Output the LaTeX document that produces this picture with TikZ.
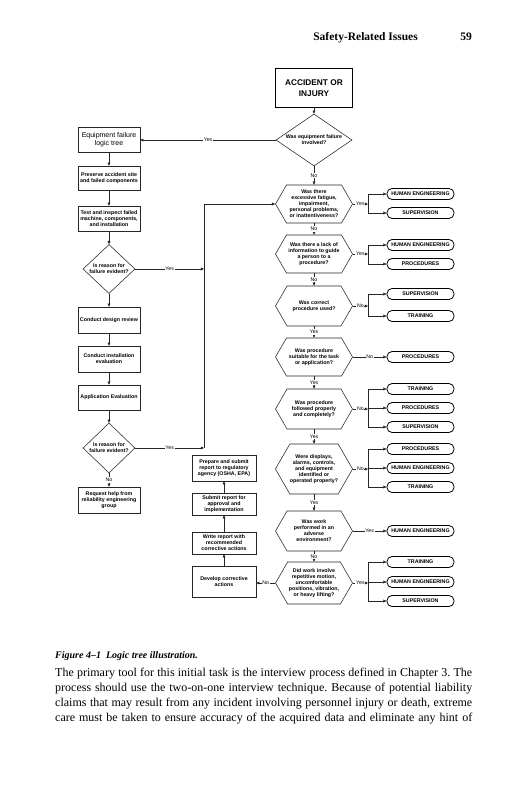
\documentclass[tikz,border=0pt]{standalone}
\usepackage{fontspec}
\setmainfont{Liberation Serif}
\setsansfont{Liberation Sans}
\usetikzlibrary{shapes.geometric,shapes.symbols,arrows.meta}
\begin{document}
\frenchspacing
\begin{tikzpicture}[x=1pt,y=-1pt,
  line/.style={draw=black!85, line width=0.5pt},
  arr/.style={line, -{Triangle[length=3.2pt,width=2.8pt]}},
  txt/.style={font=\sffamily\bfseries\fontsize{5.3}{6}\selectfont, align=center},
  box/.style={txt, draw=black!85, line width=0.55pt, inner sep=0.5pt, minimum width=62pt},
  mbox/.style={box, minimum width=64pt},
  dia/.style={txt, diamond, draw=black!85, line width=0.55pt, inner sep=0pt},
  hexa/.style={txt, signal, signal to=east and west, signal pointer angle=120, draw=black!85, line width=0.55pt, inner sep=0pt, minimum width=77pt},
  pill/.style={draw, line width=0.8pt, rounded corners=5pt, minimum width=67pt, minimum height=11pt, inner sep=0pt, font=\sffamily\bfseries\fontsize{5.3}{6}\selectfont},
  lab/.style={font=\sffamily\fontsize{5.2}{6}\selectfont, fill=white, inner sep=0.7pt},
  body/.style={anchor=base west, inner sep=0pt, font=\rmfamily\fontsize{12}{15}\selectfont},
]
\fill[white] (0,0) rectangle (530,800);
\useasboundingbox (0,0) rectangle (530,800);

% header
\node[anchor=base east, inner sep=0pt, font=\rmfamily\bfseries\fontsize{11.5}{13}\selectfont] (hd) at (418,41) {Safety-Related Issues};
\node[anchor=base east, inner sep=0pt, font=\rmfamily\bfseries\fontsize{11.5}{13}\selectfont] (pg) at (472,41) {59};

% main column
\node[draw, line width=0.9pt, minimum width=77pt, minimum height=39pt, align=center, font=\sffamily\bfseries\fontsize{8.3}{10.5}\selectfont] (acc) at (314,88) {ACCIDENT OR\\INJURY};
\node[dia, aspect=1.5, minimum width=76pt, minimum height=52pt] (d0) at (314,140) {Was equipment failure\\involved?};
\node[hexa, minimum height=38pt] (h1) at (314,204) {Was there\\excessive fatigue,\\impairment,\\personal problems,\\or inattentiveness?};
\node[hexa, minimum height=38pt] (h2) at (314,254) {Was there a lack of\\information to guide\\a person to a\\procedure?};
\node[hexa, minimum height=40pt] (h3) at (314,306) {Was correct\\procedure used?};
\node[hexa, minimum height=38pt] (h4) at (314,357) {Was procedure\\suitable for the task\\or application?};
\node[hexa, minimum height=40pt] (h5) at (314,409) {Was procedure\\followed properly\\and completely?};
\node[hexa, minimum height=50pt] (h6) at (314,469) {Were displays,\\alarms, controls,\\and equipment\\identified or\\operated properly?};
\node[hexa, minimum height=40pt] (h7) at (314,531) {Was work\\performed in an\\adverse\\environment?};
\node[hexa, minimum height=42pt] (h8) at (314,583) {Did work involve\\repetitive motion,\\uncomfortable\\positions, vibration,\\or heavy lifting?};

% left column
\node[box, minimum height=25pt, font=\sffamily\fontsize{7}{8}\selectfont] (eq) at (109,140) {Equipment failure\\logic tree};
\node[box, minimum height=24pt] (pres) at (109,178) {Preserve accident site\\and failed components};
\node[box, minimum height=25pt] (test) at (109,218.5) {Test and inspect failed\\machine, components,\\and installation};
\node[dia, minimum width=52pt, minimum height=49pt] (dl1) at (109,269) {Is reason for\\failure evident?};
\node[box, minimum height=26pt] (des) at (109,320) {Conduct design review};
\node[box, minimum height=26pt] (inst) at (109,359) {Conduct installation\\evaluation};
\node[box, minimum height=25pt] (app) at (109,397.5) {Application Evaluation};
\node[dia, minimum width=52pt, minimum height=50pt] (dl2) at (109,448) {Is reason for\\failure evident?};
\node[box, minimum height=26pt] (req) at (109,500) {Request help from\\reliability engineering\\group};

% middle column
\node[mbox, minimum height=26pt] (prep) at (224,468) {Prepare and submit\\report to regulatory\\agency (OSHA, EPA)};
\node[mbox, minimum height=22pt] (subm) at (224,504) {Submit report for\\approval and\\implementation};
\node[mbox, minimum height=22pt] (wrt) at (224,543) {Write report with\\recommended\\corrective actions};
\node[mbox, minimum height=31pt] (dev) at (224,581.5) {Develop corrective\\actions};

% pills
\node[pill] (p1a) at (420.5,194) {HUMAN ENGINEERING};
\node[pill] (p1b) at (420.5,213) {SUPERVISION};
\node[pill] (p2a) at (420.5,245) {HUMAN ENGINEERING};
\node[pill] (p2b) at (420.5,264) {PROCEDURES};
\node[pill] (p3a) at (420.5,294) {SUPERVISION};
\node[pill] (p3b) at (420.5,316) {TRAINING};
\node[pill] (p4) at (420.5,357) {PROCEDURES};
\node[pill] (p5a) at (420.5,389) {TRAINING};
\node[pill] (p5b) at (420.5,408) {PROCEDURES};
\node[pill] (p5c) at (420.5,427) {SUPERVISION};
\node[pill] (p6a) at (420.5,449) {PROCEDURES};
\node[pill] (p6b) at (420.5,468) {HUMAN ENGINEERING};
\node[pill] (p6c) at (420.5,487) {TRAINING};
\node[pill] (p7) at (420.5,531) {HUMAN ENGINEERING};
\node[pill] (p8a) at (420.5,562) {TRAINING};
\node[pill] (p8b) at (420.5,582) {HUMAN ENGINEERING};
\node[pill] (p8c) at (420.5,601) {SUPERVISION};

\coordinate (brx) at (368,0);
\coordinate (vx) at (204,0);

% main column arrows
\draw[arr] (acc.south) -- (d0.north);
\draw[arr] (d0.south) -- node[lab]{No} (h1.north);
\draw[arr] (h1.south) -- node[lab]{No} (h2.north);
\draw[arr] (h2.south) -- node[lab]{No} (h3.north);
\draw[arr] (h3.south) -- node[lab]{Yes} (h4.north);
\draw[arr] (h4.south) -- node[lab]{Yes} (h5.north);
\draw[arr] (h5.south) -- node[lab]{Yes} (h6.north);
\draw[arr] (h6.south) -- node[lab]{Yes} (h7.north);
\draw[arr] (h7.south) -- node[lab]{No} (h8.north);
\draw[arr] (d0.west) -- node[lab]{Yes} (d0.west -| eq.east);

% brackets to pills
\draw[arr] (h1.east) -- node[lab]{Yes} (h1.east -| brx);
\draw[line] (p1a.west -| brx) -- (p1b.west -| brx);
\draw[arr] (p1a.west -| brx) -- (p1a.west);
\draw[arr] (p1b.west -| brx) -- (p1b.west);

\draw[arr] (h2.east) -- node[lab]{Yes} (h2.east -| brx);
\draw[line] (p2a.west -| brx) -- (p2b.west -| brx);
\draw[arr] (p2a.west -| brx) -- (p2a.west);
\draw[arr] (p2b.west -| brx) -- (p2b.west);

\draw[arr] (h3.east) -- node[lab]{No} (h3.east -| brx);
\draw[line] (p3a.west -| brx) -- (p3b.west -| brx);
\draw[arr] (p3a.west -| brx) -- (p3a.west);
\draw[arr] (p3b.west -| brx) -- (p3b.west);

\draw[arr] (h4.east) -- node[lab]{No} (p4.west);

\draw[arr] (h5.east) -- node[lab]{No} (h5.east -| brx);
\draw[line] (p5a.west -| brx) -- (p5c.west -| brx);
\draw[arr] (p5a.west -| brx) -- (p5a.west);
\draw[arr] (p5b.west -| brx) -- (p5b.west);
\draw[arr] (p5c.west -| brx) -- (p5c.west);

\draw[arr] (h6.east) -- node[lab]{No} (h6.east -| brx);
\draw[line] (p6a.west -| brx) -- (p6c.west -| brx);
\draw[arr] (p6a.west -| brx) -- (p6a.west);
\draw[arr] (p6b.west -| brx) -- (p6b.west);
\draw[arr] (p6c.west -| brx) -- (p6c.west);

\draw[arr] (h7.east) -- node[lab]{Yes} (p7.west);

\draw[arr] (h8.east) -- node[lab]{Yes} (h8.east -| brx);
\draw[line] (p8a.west -| brx) -- (p8c.west -| brx);
\draw[arr] (p8a.west -| brx) -- (p8a.west);
\draw[arr] (p8b.west -| brx) -- (p8b.west);
\draw[arr] (p8c.west -| brx) -- (p8c.west);

% left column arrows
\draw[arr] (eq.south) -- (pres.north);
\draw[arr] (pres.south) -- (test.north);
\draw[arr] (test.south) -- (dl1.north);
\draw[arr] (dl1.south) -- (des.north);
\draw[arr] (des.south) -- (inst.north);
\draw[arr] (inst.south) -- (app.north);
\draw[arr] (app.south) -- (dl2.north);
\draw[arr] (dl2.south) -- node[lab]{No} (req.north);

% yes branches to vertical line
\draw[arr] (dl1.east) -- node[lab]{Yes} (dl1.east -| vx);
\draw[arr] (dl2.east) -- node[lab]{Yes} (dl2.east -| vx);
\draw[line] (h1.west -| vx) -- (dl2.east -| vx);
\draw[arr] (h1.west -| vx) -- (h1.west);

% middle column arrows
\draw[arr] (dev.north) -- (wrt.south);
\draw[arr] (wrt.north) -- (subm.south);
\draw[arr] (subm.north) -- (prep.south);
\draw[arr] (h8.west) -- node[lab]{No} (h8.west -| dev.east);

% caption and body text
\node[anchor=base west, inner sep=0pt, font=\rmfamily\bfseries\itshape\fontsize{10}{12}\selectfont] (cap) at (55,658) {Figure 4--1\ \ Logic tree illustration.};
\node[body] (t1) at (55,676) {\makebox[417pt][s]{The primary tool for this initial task is the interview process defined in Chapter 3. The}};
\node[body] (t2) at (55,691) {\makebox[417pt][s]{process should use the two-on-one interview technique. Because of potential liability}};
\node[body] (t3) at (55,706) {\makebox[417pt][s]{claims that may result from any incident involving personnel injury or death, extreme}};
\node[body] (t4) at (55,721) {\makebox[417pt][s]{care must be taken to ensure accuracy of the acquired data and eliminate any hint of}};
\end{tikzpicture}
\end{document}
